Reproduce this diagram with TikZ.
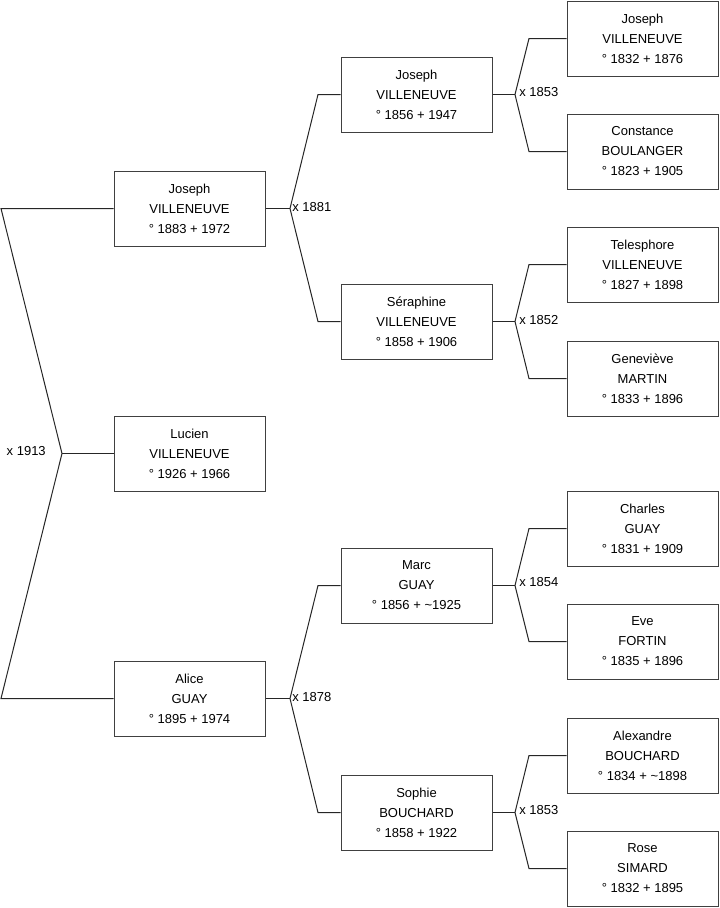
\documentclass[tikz,border=0pt]{standalone}
\usepackage{fontspec}
\setmainfont{Liberation Sans}
\begin{document}
\begin{tikzpicture}[x=0.75pt,y=-0.75pt,
  person/.style={draw=black!75, line width=0.75pt, minimum width=113.25pt, minimum height=56.25pt,
    inner sep=0pt, align=center, font=\fontsize{9.75}{15}\selectfont},
  link/.style={draw=black!85, line width=0.75pt},
  marr/.style={inner sep=0pt, font=\fontsize{9.75}{12}\selectfont}]
\useasboundingbox (0,0) rectangle (719,908);
% generation 1
\node[person] (p1) at (189.5,208.5) {Joseph\\VILLENEUVE\\° 1883 + 1972};
\node[person] (p0) at (189.5,453.5) {Lucien\\VILLENEUVE\\° 1926 + 1966};
\node[person] (p2) at (189.5,698.5) {Alice\\GUAY\\° 1895 + 1974};
% generation 2
\node[person] (p11) at (416.5,94.5) {Joseph\\VILLENEUVE\\° 1856 + 1947};
\node[person] (p12) at (416.5,321.5) {Séraphine\\VILLENEUVE\\° 1858 + 1906};
\node[person] (p21) at (416.5,585.5) {Marc\\GUAY\\° 1856 + \textasciitilde 1925};
\node[person] (p22) at (416.5,812.5) {Sophie\\BOUCHARD\\° 1858 + 1922};
% generation 3
\node[person] (p111) at (642.5,38.5) {Joseph\\VILLENEUVE\\° 1832 + 1876};
\node[person] (p112) at (642.5,151.5) {Constance\\BOULANGER\\° 1823 + 1905};
\node[person] (p121) at (642.5,264.5) {Telesphore\\VILLENEUVE\\° 1827 + 1898};
\node[person] (p122) at (642.5,378.5) {Geneviève\\MARTIN\\° 1833 + 1896};
\node[person] (p211) at (642.5,528.5) {Charles\\GUAY\\° 1831 + 1909};
\node[person] (p212) at (642.5,641.5) {Eve\\FORTIN\\° 1835 + 1896};
\node[person] (p221) at (642.5,755.5) {Alexandre\\BOUCHARD\\° 1834 + \textasciitilde 1898};
\node[person] (p222) at (642.5,868.5) {Rose\\SIMARD\\° 1832 + 1895};
% root family
\coordinate (r1) at (1,208.5);
\coordinate (r2) at (1,698.5);
\coordinate (m0) at (62,453.5);
\draw[link] (p1.west) -- (r1) -- (m0) -- (r2) -- (p2.west);
\draw[link] (m0) -- (p0.west);
\node[marr, anchor=east] (x0) at (46,451.5) {x 1913};
% gen1 -> gen2
\coordinate (c1) at (290,208.5);
\coordinate (c1a) at (318,94.5);
\coordinate (c1b) at (318,321.5);
\draw[link] (p1.east) -- (c1);
\draw[link] (p11.west) -- (c1a) -- (c1) -- (c1b) -- (p12.west);
\node[marr, anchor=west] (x1) at (292,207.5) {x 1881};
\coordinate (c2) at (290,698.5);
\coordinate (c2a) at (318,585.5);
\coordinate (c2b) at (318,812.5);
\draw[link] (p2.east) -- (c2);
\draw[link] (p21.west) -- (c2a) -- (c2) -- (c2b) -- (p22.west);
\node[marr, anchor=west] (x2) at (292,697.5) {x 1878};
% gen2 -> gen3
\coordinate (c11) at (515,94.5);
\coordinate (c11a) at (529,38.5);
\coordinate (c11b) at (529,151.5);
\draw[link] (p11.east) -- (c11);
\draw[link] (p111.west) -- (c11a) -- (c11) -- (c11b) -- (p112.west);
\node[marr, anchor=west] (x11) at (519,92.5) {x 1853};
\coordinate (c12) at (515,321.5);
\coordinate (c12a) at (529,264.5);
\coordinate (c12b) at (529,378.5);
\draw[link] (p12.east) -- (c12);
\draw[link] (p121.west) -- (c12a) -- (c12) -- (c12b) -- (p122.west);
\node[marr, anchor=west] (x12) at (519,320) {x 1852};
\coordinate (c21) at (515,585.5);
\coordinate (c21a) at (529,528.5);
\coordinate (c21b) at (529,641.5);
\draw[link] (p21.east) -- (c21);
\draw[link] (p211.west) -- (c21a) -- (c21) -- (c21b) -- (p212.west);
\node[marr, anchor=west] (x21) at (519,582.5) {x 1854};
\coordinate (c22) at (515,812.5);
\coordinate (c22a) at (529,755.5);
\coordinate (c22b) at (529,868.5);
\draw[link] (p22.east) -- (c22);
\draw[link] (p221.west) -- (c22a) -- (c22) -- (c22b) -- (p222.west);
\node[marr, anchor=west] (x22) at (519,810.5) {x 1853};
\end{tikzpicture}
\end{document}
